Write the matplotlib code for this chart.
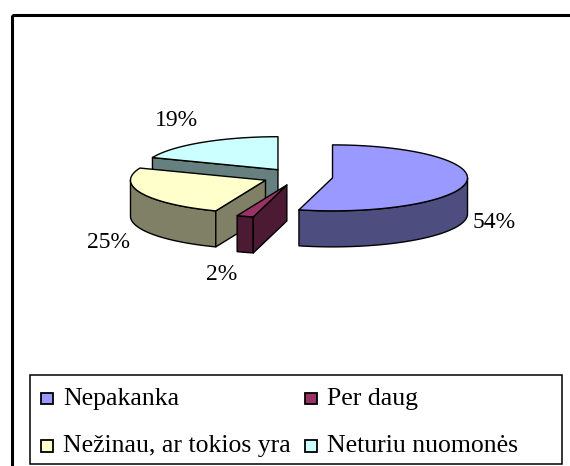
import numpy as np
import matplotlib
matplotlib.use("Agg")
import matplotlib.pyplot as plt
from matplotlib.patches import Polygon, Rectangle

# data
labels = ['Nepakanka', 'Per daug', 'Nežinau, ar tokios yra', 'Neturiu nuomonės']
values = [54, 2, 25, 19]
pct_labels = ['54%', '2%', '25%', '19%']
top_colors = ['#9999FF', '#993366', '#FFFFCC', '#CCFFFF']
side_colors = ['#4D4D80', '#4D1A33', '#808066', '#668080']

# layout (pixels)
W, H = 570, 466
cx0, cy0 = 297.7, 176.8
rx, ry = 135, 33
depth = 36
explode = 0.26
label_pos = [(494, 222), (222, 275), (108, 242), (176, 120)]
draw_order = [3, 2, 1, 0]
leg_cols = [41, 305]
leg_rows = [398.5, 446]
sq = 11.5

plt.rcParams['font.family'] = ['Liberation Serif', 'DejaVu Serif']

fig = plt.figure(figsize=(W / 100, H / 100), dpi=100)
ax = fig.add_axes([0, 0, 1, 1])
ax.set_xlim(0, W)
ax.set_ylim(H, 0)
ax.axis('off')


def pt(cx, cy, a, dz=0):
    r = np.radians(a)
    return cx + rx * np.sin(r), cy - ry * np.cos(r) + dz


def arc(cx, cy, a, b, dz=0, n=60):
    t = np.linspace(a, b, n)
    r = np.radians(t)
    return np.column_stack([cx + rx * np.sin(r), cy - ry * np.cos(r) + dz])


total = sum(values)
starts = np.concatenate([[0], np.cumsum(values)[:-1]]) / total * 360
ends = np.cumsum(values) / total * 360

for i in draw_order:
    a, b = starts[i], ends[i]
    m = np.radians((a + b) / 2)
    cx = cx0 + explode * rx * np.sin(m)
    cy = cy0 - explode * ry * np.cos(m)
    kw = dict(edgecolor='black', linewidth=1.0, joinstyle='round')

    # outer wall (front half)
    lo, hi = max(a, 90), min(b, 270)
    if hi > lo:
        top = arc(cx, cy, lo, hi)
        bot = arc(cx, cy, lo, hi, depth)[::-1]
        ax.add_patch(Polygon(np.vstack([top, bot]), facecolor=side_colors[i], **kw))
    # radial faces
    if np.sin(np.radians(a)) < -1e-9:
        p = pt(cx, cy, a)
        face = [(cx, cy), p, (p[0], p[1] + depth), (cx, cy + depth)]
        ax.add_patch(Polygon(face, facecolor=side_colors[i], **kw))
    if np.sin(np.radians(b)) > 1e-9:
        p = pt(cx, cy, b)
        face = [(cx, cy), p, (p[0], p[1] + depth), (cx, cy + depth)]
        ax.add_patch(Polygon(face, facecolor=side_colors[i], **kw))
    # top
    topface = np.vstack([[(cx, cy)], arc(cx, cy, a, b)])
    ax.add_patch(Polygon(topface, facecolor=top_colors[i], **kw))

for i, txt in enumerate(pct_labels):
    ax.text(label_pos[i][0], label_pos[i][1], txt, fontsize=17,
            ha='center', va='center')

# outer chart frame
ax.add_patch(Rectangle((12, 15), W, H, fill=False, edgecolor='black',
                       linewidth=2.2, clip_on=False))

# legend, row-wise like the original
ax.add_patch(Rectangle((30, 375), 532, 89, fill=False, edgecolor='black',
                       linewidth=1.1))
for i, lab in enumerate(labels):
    x = leg_cols[i % 2]
    y = leg_rows[i // 2]
    ax.add_patch(Rectangle((x, y - sq / 2), sq, sq, facecolor=top_colors[i],
                           edgecolor='black', linewidth=1.3))
    ax.text(x + sq + 10.5, y, lab, fontsize=18.5, ha='left', va='center')

fig.savefig('out.png', dpi=100)
